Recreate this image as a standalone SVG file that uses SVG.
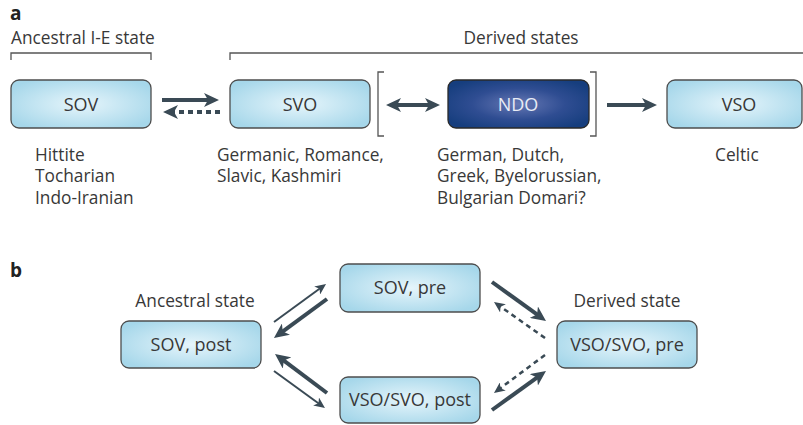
<svg xmlns="http://www.w3.org/2000/svg" width="803" height="425" viewBox="0 0 803 425">
  <style>
    text { font-family: "Open Sans", "Noto Sans", "DejaVu Sans", sans-serif; fill: #383838; }
    .lbl { font-size: 17.3px; }
    .box { fill: url(#lightFill); stroke: #4d4d4d; stroke-width: 1.3; }
    .dark { fill: url(#darkFill); stroke: #2a2a2a; stroke-width: 1.3; }
    .bt { font-size: 18px; text-anchor: middle; }
    .panel { font-size: 19px; font-weight: bold; fill: #222; }
    .brk { fill: none; stroke: #555; stroke-width: 1.3; }
    .thick { stroke: #3a4a55; stroke-width: 4; fill: none; }
    .thin { stroke: #3a4a55; stroke-width: 2; fill: none; }
    .dashA { stroke: #3a4a55; stroke-width: 4; fill: none; stroke-dasharray: 5 4; }
    .dashB { stroke: #3a4a55; stroke-width: 2.5; fill: none; stroke-dasharray: 5 4; }
  </style>
  <defs>
    <radialGradient id="lightFill" cx="50%" cy="50%" r="60%">
      <stop offset="0" stop-color="#e6f5fb"/>
      <stop offset="1" stop-color="#a6d7ea"/>
    </radialGradient>
    <radialGradient id="darkFill" cx="50%" cy="50%" r="60%">
      <stop offset="0" stop-color="#6678b4"/>
      <stop offset="0.55" stop-color="#2f4d92"/>
      <stop offset="1" stop-color="#163e7e"/>
    </radialGradient>
    <marker id="headL" markerUnits="userSpaceOnUse" markerWidth="15" markerHeight="14" viewBox="0 0 15 14" refX="6" refY="7" orient="auto-start-reverse">
      <path d="M0,0 L15,7 L0,14 L4,7 z" fill="#3a4a55"/>
    </marker>
    <marker id="headS" markerUnits="userSpaceOnUse" markerWidth="11" markerHeight="10" viewBox="0 0 11 10" refX="5" refY="5" orient="auto">
      <path d="M0,0 L11,5 L0,10 L3,5 z" fill="#3a4a55"/>
    </marker>
  </defs>

  <!-- panel a -->
  <text class="panel" x="10" y="20">a</text>
  <text class="lbl" x="11" y="44">Ancestral I-E state</text>
  <path class="brk" d="M11,60 V53 H151 V60"/>
  <text class="lbl" x="521" y="44" text-anchor="middle">Derived states</text>
  <path class="brk" d="M230,60 V53 H803"/>
  <path class="brk" d="M384,72 H378 V136 H384"/>
  <path class="brk" d="M590,72 H596 V136 H590"/>

  <g id="sov">
    <rect class="box" x="11" y="80" width="140" height="48" rx="8"/>
    <text class="bt" x="81" y="111">SOV</text>
  </g>
  <g id="svo">
    <rect class="box" x="230" y="80" width="140" height="48" rx="8"/>
    <text class="bt" x="300" y="111">SVO</text>
  </g>
  <g id="ndo">
    <rect class="dark" x="448" y="80" width="141" height="48" rx="8"/>
    <text class="bt" x="518" y="111" style="fill:#e8ecf5">NDO</text>
  </g>
  <g id="vso">
    <rect class="box" x="667" y="80" width="135" height="48" rx="8"/>
    <text class="bt" x="739" y="111">VSO</text>
  </g>

  <g id="lang-notes" class="lbl">
    <text x="35" y="161">Hittite</text>
    <text x="35" y="182">Tocharian</text>
    <text x="35" y="204">Indo-Iranian</text>
    <text x="217" y="161">Germanic, Romance,</text>
    <text x="217" y="182">Slavic, Kashmiri</text>
    <text x="437" y="161">German, Dutch,</text>
    <text x="437" y="182">Greek, Byelorussian,</text>
    <text x="437" y="204">Bulgarian Domari?</text>
    <text x="715" y="161">Celtic</text>
  </g>

  <!-- panel b -->
  <text class="panel" x="10" y="277">b</text>
  <text class="lbl" x="195" y="307" text-anchor="middle">Ancestral state</text>
  <text class="lbl" x="627" y="307" text-anchor="middle">Derived state</text>

  <g id="sov-post">
    <rect class="box" x="121" y="321" width="140" height="47" rx="8"/>
    <text class="bt" x="191" y="351">SOV, post</text>
  </g>
  <g id="sov-pre">
    <rect class="box" x="340" y="264" width="140" height="48" rx="8"/>
    <text class="bt" x="410" y="294">SOV, pre</text>
  </g>
  <g id="vso-svo-post">
    <rect class="box" x="340" y="377" width="140" height="46" rx="8"/>
    <text class="bt" x="410" y="406">VSO/SVO, post</text>
  </g>
  <g id="vso-svo-pre">
    <rect class="box" x="557" y="321" width="140" height="47" rx="8"/>
    <text class="bt" x="627" y="351">VSO/SVO, pre</text>
  </g>

  <g id="connectors">
    <line class="thick" x1="162" y1="100" x2="210" y2="100" marker-end="url(#headL)"/>
    <line class="dashA" x1="220" y1="112" x2="172" y2="112" marker-end="url(#headL)"/>
    <line class="thick" x1="395" y1="105" x2="431" y2="105" marker-start="url(#headL)" marker-end="url(#headL)"/>
    <line class="thick" x1="607" y1="105" x2="648" y2="105" marker-end="url(#headL)"/>

    <line class="thin" x1="274" y1="322" x2="321.2" y2="287.5" marker-end="url(#headS)"/>
    <line class="thick" x1="327" y1="299" x2="281.2" y2="332.7" marker-end="url(#headL)"/>
    <line class="thick" x1="327" y1="393" x2="282.2" y2="359.4" marker-end="url(#headL)"/>
    <line class="thin" x1="274" y1="371" x2="320.1" y2="404.5" marker-end="url(#headS)"/>
    <line class="thick" x1="492" y1="282" x2="538.7" y2="315.7" marker-end="url(#headL)"/>
    <line class="dashB" x1="545" y1="338" x2="498.9" y2="305.5" marker-end="url(#headS)"/>
    <line class="dashB" x1="545" y1="355" x2="498.8" y2="389.4" marker-end="url(#headS)"/>
    <line class="thick" x1="492" y1="410" x2="538.7" y2="376.3" marker-end="url(#headL)"/>
  </g>
</svg>
